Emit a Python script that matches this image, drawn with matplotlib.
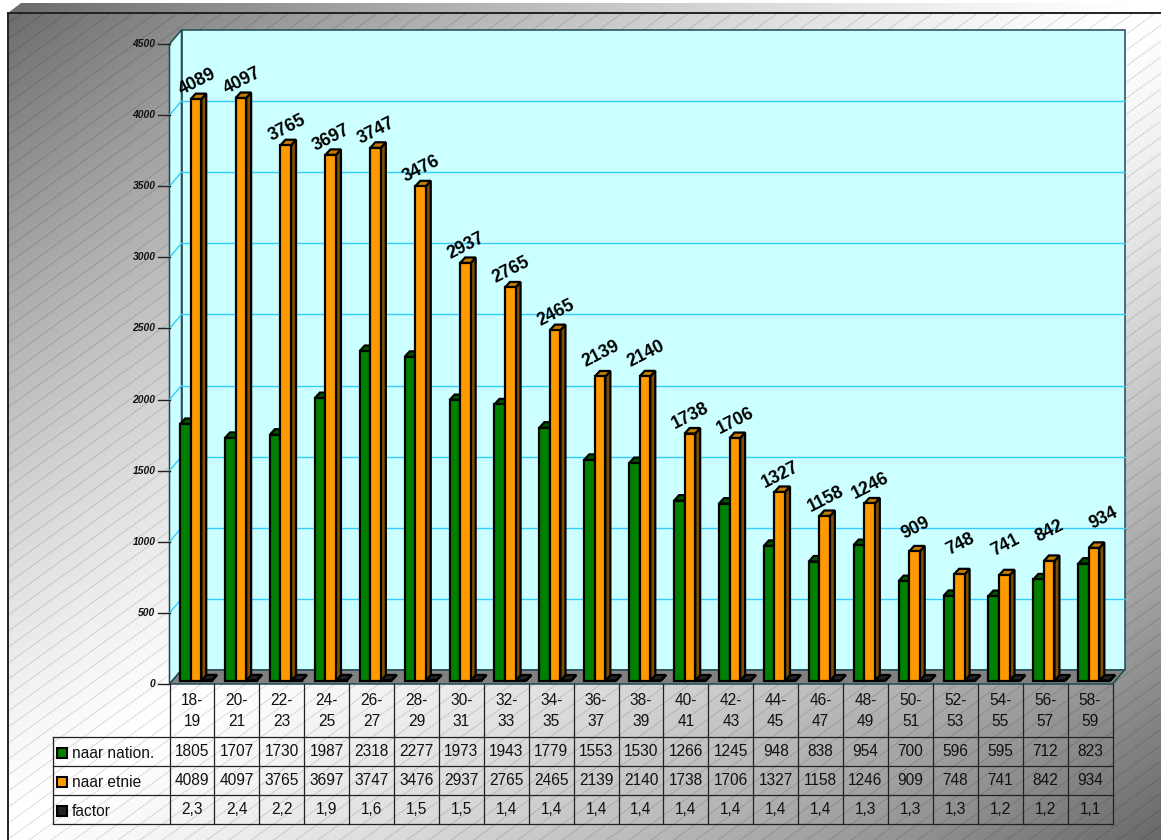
import numpy as np
import matplotlib
matplotlib.use("Agg")
import matplotlib.pyplot as plt
from matplotlib.collections import LineCollection
from matplotlib.patches import Polygon, Rectangle
from matplotlib.transforms import Affine2D, IdentityTransform, blended_transform_factory

plt.rcParams['font.family'] = ['Liberation Sans', 'DejaVu Sans']

# data
ages = ["18-\n19", "20-\n21", "22-\n23", "24-\n25", "26-\n27", "28-\n29", "30-\n31",
        "32-\n33", "34-\n35", "36-\n37", "38-\n39", "40-\n41", "42-\n43", "44-\n45",
        "46-\n47", "48-\n49", "50-\n51", "52-\n53", "54-\n55", "56-\n57", "58-\n59"]
nation = [1805, 1707, 1730, 1987, 2318, 2277, 1973, 1943, 1779, 1553, 1530,
          1266, 1245, 948, 838, 954, 700, 596, 595, 712, 823]
etnie = [4089, 4097, 3765, 3697, 3747, 3476, 2937, 2765, 2465, 2139, 2140,
         1738, 1706, 1327, 1158, 1246, 909, 748, 741, 842, 934]
factor = [2.3, 2.4, 2.2, 1.9, 1.6, 1.5, 1.5, 1.4, 1.4, 1.4, 1.4,
          1.4, 1.4, 1.4, 1.4, 1.3, 1.3, 1.3, 1.2, 1.2, 1.1]
y_ticks = [0, 500, 1000, 1500, 2000, 2500, 3000, 3500, 4000, 4500]
series_names = ["naar nation.", "naar etnie", "factor"]

GREEN, ORANGE, BLACK = '#008000', '#FF9900', '#222222'
GREEN_TOP, ORANGE_TOP, ORANGE_SIDE = '#005500', '#C67C00', '#7F5000'
WALL, GRID, WALL_EDGE, FLOOR = '#CCFFFF', '#33CCFF', '#1F4A50', '#808080'

W, H = 1161, 840
fig = plt.figure(figsize=(W / 100, H / 100), dpi=100, facecolor='white')

# background, in pixel coords
bg = fig.add_axes([0, 0, 1, 1], zorder=0)
bg.set_xlim(0, W)
bg.set_ylim(H, 0)
bg.axis('off')
xx, yy = np.meshgrid(np.linspace(0, 1, 300), np.linspace(0, 1, 300))
grad = np.abs(xx + yy - 1) ** 1.3
img = bg.imshow(255 - 150 * grad, cmap='gray', vmin=0, vmax=255, extent=(0, W, H, 0), aspect='auto')
img.set_clip_path(Polygon([(8, 13), (21, 3), (W, 3), (W, H), (8, H)], transform=bg.transData))
bg.set_xlim(0, W)
bg.set_ylim(H, 0)

hatch = [[(0, c), (W, c - 0.72 * W)] for c in range(13, 1800, 16)]
lc = LineCollection(hatch, colors='black', linewidths=0.6, alpha=0.24, linestyles=(0, (1.3, 0.7)))
bg.add_collection(lc)
lc.set_clip_path(Rectangle((8, 13), W, H, transform=bg.transData))
bg.plot([8, 8], [H, 13], color='#222222', lw=1.4, solid_capstyle='projecting')
bg.plot([8, W], [13, 13], color='#222222', lw=1.4, solid_capstyle='projecting')

# chart, front plane of the box
ax = fig.add_axes([169.5 / W, 1 - 684 / H, 943 / W, 640 / H], zorder=1)
ax.set_xlim(-0.5, 20.5)
ax.set_ylim(0, 4500)
ax.axis('off')
fig.canvas.draw()

DX, DY = 12, 14


def shifted(dx, dy):
    return ax.transData + Affine2D().translate(dx, dy)


def face(points, **kw):
    # points are (x, y, dx, dy): data position plus a depth shift in pixels
    xy = [ax.transData.transform((x, y)) + (dx, dy) for x, y, dx, dy in points]
    ax.add_patch(Polygon(xy, closed=True, transform=IdentityTransform(), clip_on=False, **kw))


L, R, T = -0.5, 20.5, 4500
ax.add_patch(Rectangle((L, 0), R - L, T, transform=shifted(DX, DY), facecolor=WALL,
                       edgecolor=WALL_EDGE, lw=1.1, clip_on=False, zorder=1))
face([(L, 0, 0, 0), (L, 0, DX, DY), (L, T, DX, DY), (L, T, 0, 0)], facecolor=WALL,
     edgecolor=WALL_EDGE, lw=1.1, zorder=1)
face([(L, 0, 0, 0), (R, 0, 0, 0), (R, 0, DX, DY), (L, 0, DX, DY)], facecolor=FLOOR,
     edgecolor=WALL_EDGE, lw=1.1, zorder=1.5)
for v in y_ticks[1:-1]:
    ax.plot([L, R], [v, v], transform=shifted(DX, DY), color=GRID, lw=1.0, zorder=1.2, clip_on=False)
    a = ax.transData.transform((L, v))
    ax.plot([a[0], a[0] + DX], [a[1], a[1] + DY], transform=IdentityTransform(), color=GRID,
            lw=1.0, zorder=1.2, clip_on=False)

# bars
x = np.arange(len(ages))
BW = 0.235
OFF_X, OFF_Y = 3, 3.3
SX, SY = 5, 5.5
bar_tx = shifted(OFF_X, OFF_Y)
lw = 1.6
x_green = x - 0.33
x_orange = x_green + BW
x_factor = x_orange + BW


def box(xs, vals, front, top, side, z):
    for xi, v in zip(xs, vals):
        pts_top = [(xi, v, OFF_X, OFF_Y), (xi + BW, v, OFF_X, OFF_Y),
                   (xi + BW, v, OFF_X + SX, OFF_Y + SY), (xi, v, OFF_X + SX, OFF_Y + SY)]
        pts_side = [(xi + BW, 0, OFF_X, OFF_Y), (xi + BW, 0, OFF_X + SX, OFF_Y + SY),
                    (xi + BW, v, OFF_X + SX, OFF_Y + SY), (xi + BW, v, OFF_X, OFF_Y)]
        face(pts_side, facecolor=side, edgecolor='black', lw=lw, zorder=z, joinstyle='miter')
        face(pts_top, facecolor=top, edgecolor='black', lw=lw, zorder=z, joinstyle='miter')
    ax.bar(xs, vals, BW, align='edge', transform=bar_tx, color=front, edgecolor='black',
           lw=lw, zorder=z + 0.1, clip_on=False)


box(x_factor, factor, BLACK, BLACK, BLACK, 2)
box(x_green, nation, GREEN, GREEN_TOP, GREEN_TOP, 2.2)
box(x_orange, etnie, ORANGE, ORANGE_TOP, ORANGE_SIDE, 2.4)

# value labels above the orange bars
for i, v in enumerate(etnie):
    up = 17 if v >= 1000 else 30
    if v == 909:
        up = 23
    if v in (2139, 2140):
        up = 22
    right = 9 if v == 934 else 1
    ax.annotate(str(v), (x_orange[i] + BW / 2, v), xytext=(OFF_X + right, OFF_Y + up),
                textcoords='offset pixels', ha='center', va='center', rotation=27,
                fontsize=12.8, fontweight='bold', color='black', zorder=5, annotation_clip=False,
                xycoords=ax.transData)

# y axis ticks and labels
for v in y_ticks:
    ax.plot([L - 0.245, L], [v, v], color='#222222', lw=1.0, clip_on=False, zorder=3)
    ax.text(L - 0.31, v, str(v), ha='right', va='center', fontsize=7.4, fontweight='bold',
            fontstyle='italic', color='#111111', zorder=3)

# data table, x from categories and y in pixels
tbl = blended_transform_factory(ax.transData, bg.transData)
TCOL = '#222222'
rows_y = [737, 766, 795, 824]
left_col = L - 116.5 / (943 / 21)
for edge in np.arange(L, R + 0.5):
    ax.plot([edge, edge], [684, 824], transform=tbl, color=TCOL, lw=0.9, clip_on=False, zorder=3)
for yr in rows_y:
    ax.plot([left_col, R], [yr, yr], transform=tbl, color=TCOL, lw=0.9, clip_on=False, zorder=3)
ax.plot([left_col, left_col], [737, 824], transform=tbl, color=TCOL, lw=0.9, clip_on=False, zorder=3)

for i, lab in enumerate(ages):
    ax.text(i, 711, lab, transform=tbl, ha='center', va='center', fontsize=11.2, linespacing=1.58,
            color='#111111', zorder=4)
    ax.text(i, 751, str(nation[i]), transform=tbl, ha='center', va='center', fontsize=11.2,
            color='#111111', zorder=4)
    ax.text(i, 780.5, str(etnie[i]), transform=tbl, ha='center', va='center', fontsize=11.2,
            color='#111111', zorder=4)
    ax.text(i, 810, f"{factor[i]:.1f}".replace('.', ','), transform=tbl, ha='center', va='center',
            fontsize=11.2, color='#111111', zorder=4)

# legend keys in the left column of the table
key_x = left_col + 4 / (943 / 21)
key_w = 10 / (943 / 21)
for name, col, yc in zip(series_names, [GREEN, ORANGE, BLACK], [752.5, 781.5, 810.5]):
    ax.add_patch(Rectangle((key_x, yc - 5), key_w, 10, transform=tbl, facecolor=col, edgecolor='black',
                           lw=1.5, clip_on=False, zorder=4))
    ax.text(key_x + 15 / (943 / 21), yc + 1, name, transform=tbl, ha='left', va='center', fontsize=11.2,
            color='#111111', zorder=4)

fig.savefig("out.png", dpi=100, facecolor='white')
